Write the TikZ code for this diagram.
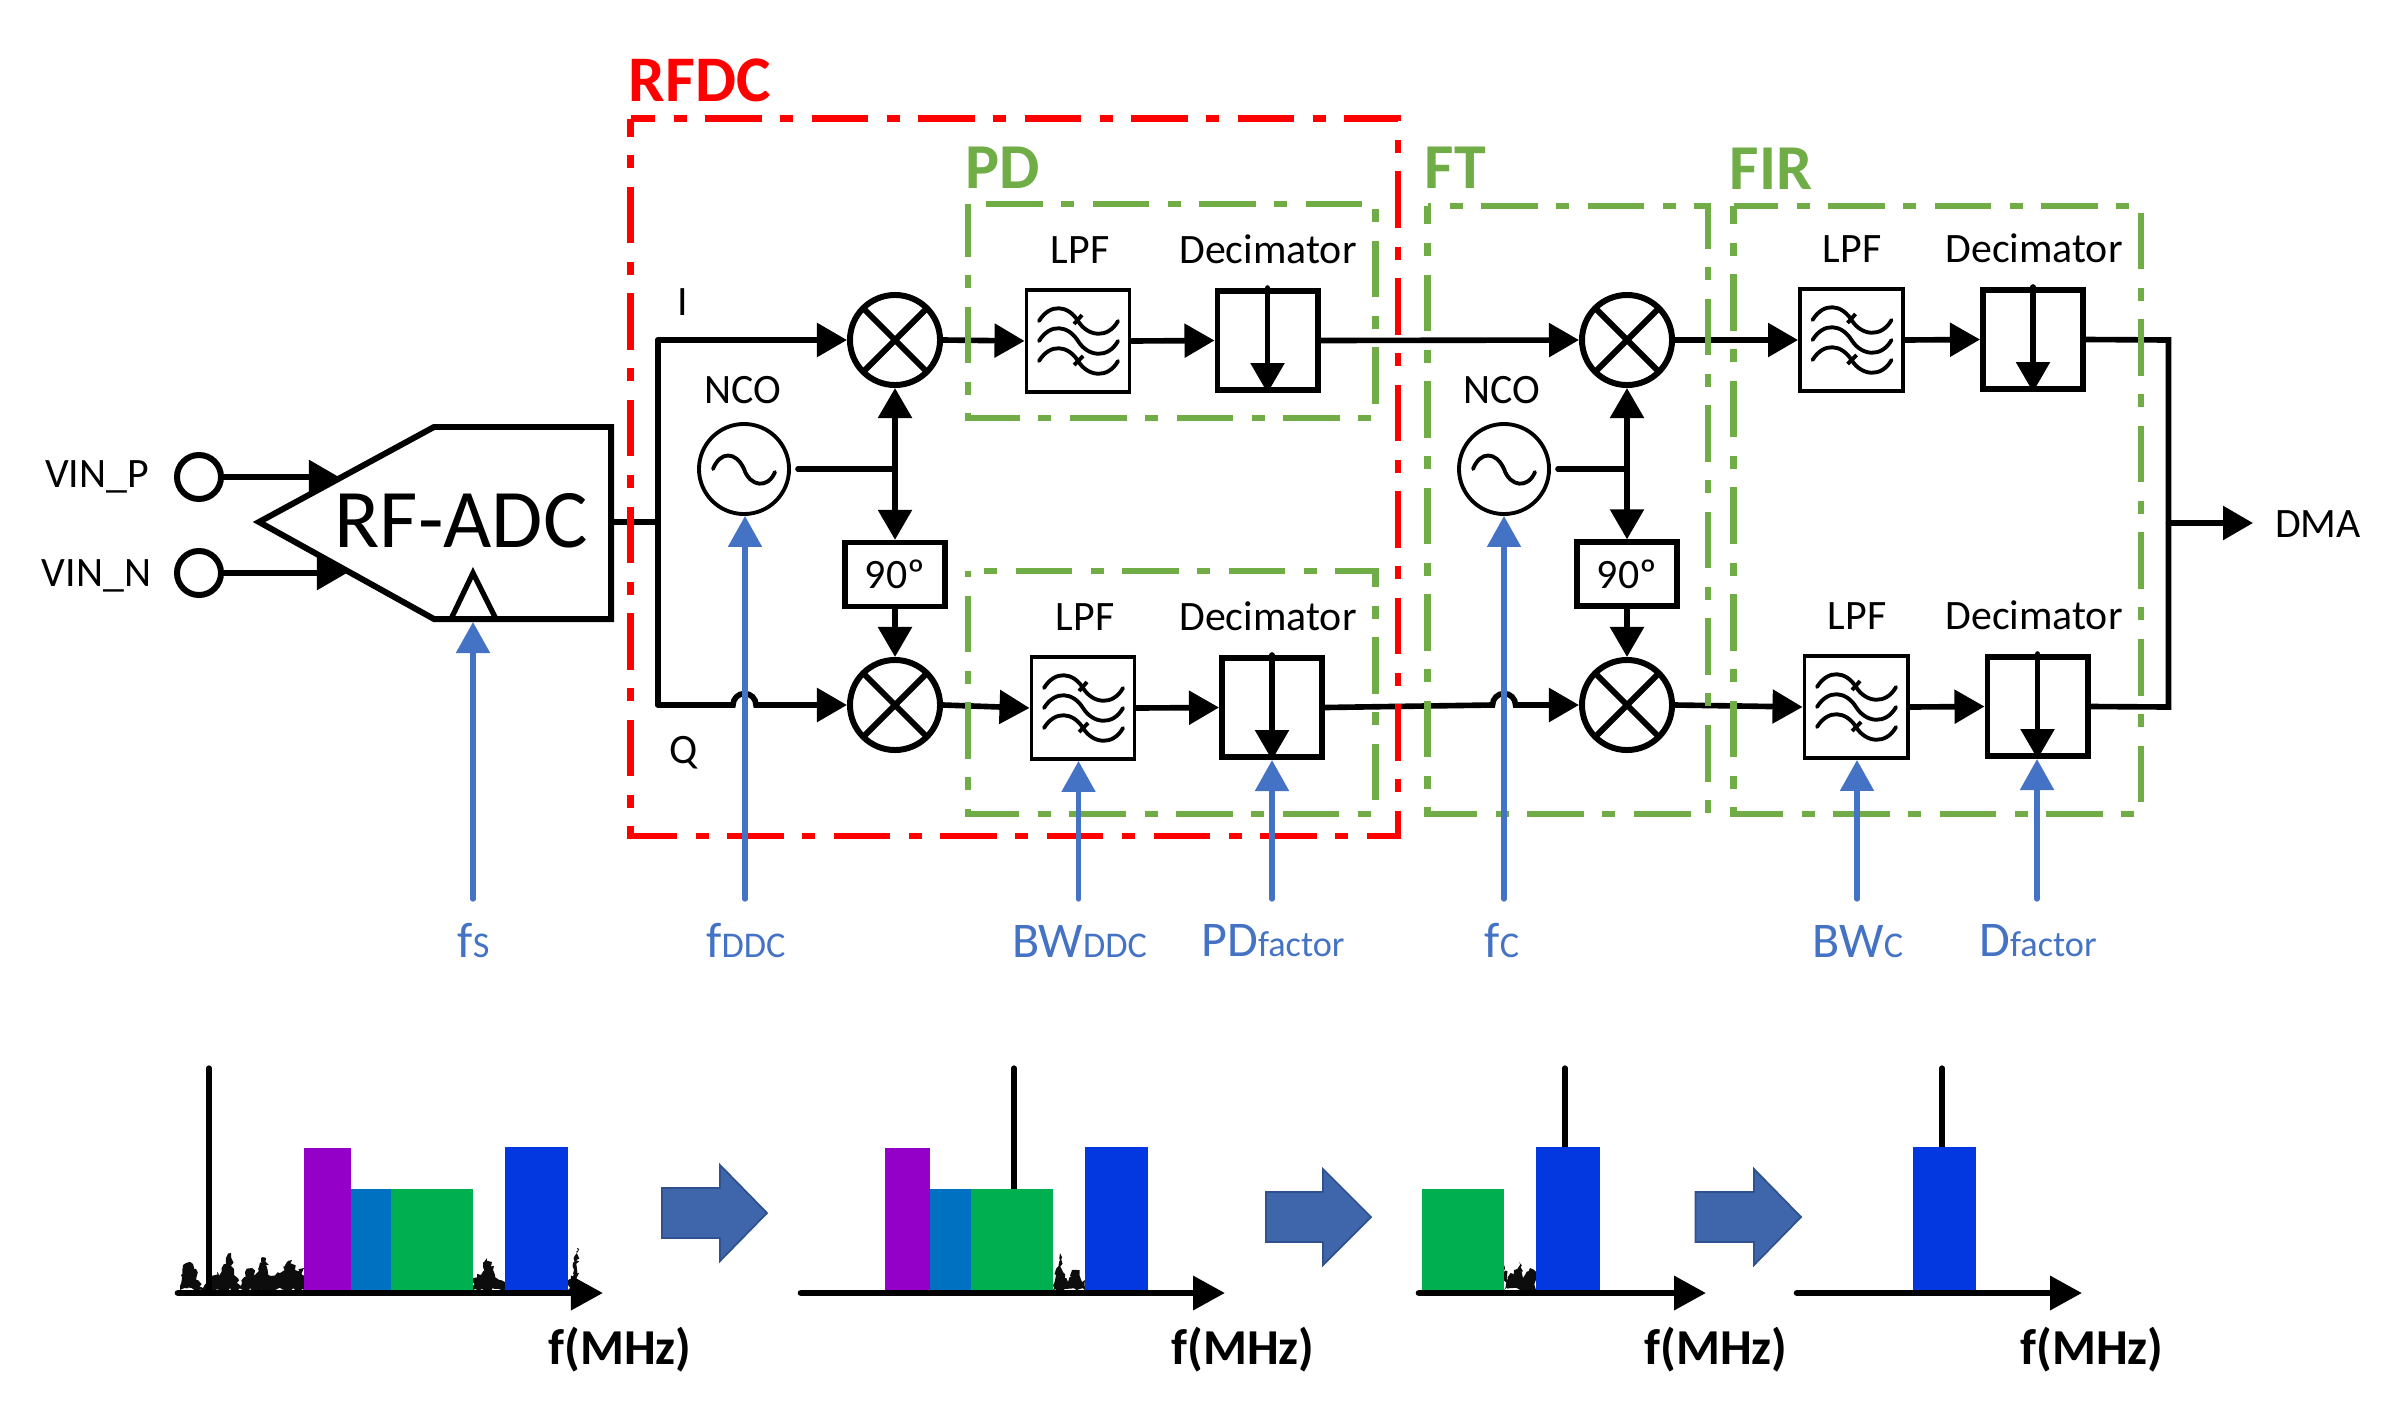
\documentclass[tikz,border=0pt]{standalone}
\usepackage{fontspec}
\setmainfont{Carlito}
\usetikzlibrary{arrows.meta, decorations.pathmorphing}

\definecolor{rfdcred}{HTML}{FF0000}
\definecolor{groupgreen}{HTML}{70AD47}
\definecolor{ctrlblue}{HTML}{4472C4}
\definecolor{barpurple}{HTML}{9400C8}
\definecolor{barcyan}{HTML}{0070C0}
\definecolor{bargreen}{HTML}{00B050}
\definecolor{barblue}{HTML}{0337DF}
\definecolor{stepfill}{HTML}{3F65AB}
\definecolor{stepline}{HTML}{2F528F}

\newcommand{\txtsize}[1]{\fontsize{#1}{#1}\selectfont}

\tikzset{
	px/.style={x=0.01cm, y=-0.01cm},
	wire/.style={line width=1.6pt, line cap=round},
	sig/.style={wire, -{Triangle[length=0.30cm, width=0.33cm]}},
	dblsig/.style={wire, {Triangle[length=0.30cm, width=0.33cm]}-{Triangle[length=0.30cm, width=0.33cm]}},
	ctrl/.style={line width=1.5pt, ctrlblue, line cap=round, -{Triangle[length=0.31cm, width=0.33cm]}},
	mixer/.style={draw, circle, line width=1.7pt, minimum size=0.90cm, inner sep=0pt, path picture={
		\draw[line width=1.7pt] (path picture bounding box.north west) -- (path picture bounding box.south east);
		\draw[line width=1.7pt] (path picture bounding box.north east) -- (path picture bounding box.south west);}},
	nco/.style={draw, circle, line width=1.1pt, minimum size=0.90cm, inner sep=0pt},
	port/.style={draw, circle, line width=1.7pt, minimum size=0.44cm, inner sep=0pt},
	shifter/.style={draw, rectangle, line width=1.5pt, minimum width=1.0cm, minimum height=0.64cm, inner sep=0pt, font=\txtsize{11.9pt}},
	lpf/.style={draw, rectangle, line width=1.1pt, minimum width=1.03cm, minimum height=1.02cm, inner sep=0pt},
	decim/.style={draw, rectangle, line width=1.7pt, minimum width=1.0cm, minimum height=0.99cm, inner sep=0pt},
	lbl/.style={inner sep=0pt, anchor=base, yshift=-0.015cm, font=\txtsize{11.9pt}},
	ctrllbl/.style={inner sep=0pt, anchor=base, text=ctrlblue, font=\txtsize{14.2pt}},
	grp/.style={line width=1.8pt, groupgreen, dash pattern=on 0.565cm off 0.185cm on 0.13cm off 0.185cm},
	grplbl/.style={inner sep=0pt, anchor=base west, text=groupgreen, font=\bfseries\txtsize{18.2pt}},
	axisline/.style={line width=1.9pt, line cap=round, -{Triangle[length=0.32cm, width=0.33cm]}},
	spike/.style={line width=1.5pt},
	noise/.style={fill=black!95, decorate, decoration={random steps, segment length=0.03cm, amplitude=0.025cm}},
	steparrow/.style={fill=stepfill, draw=stepline, line width=0.5pt},
	freqlbl/.style={inner sep=0pt, anchor=base, yshift=-0.015cm, font=\bfseries\txtsize{14.3pt}}
}

% small subscript size of the blue labels
\newcommand{\low}[1]{{\txtsize{10.3pt}#1}}

% wavy lines of the filter symbol
\newcommand{\lpfwaves}[1]{
	\foreach \dy in {-20, 0, 20} {
		\draw[line width=1.1pt, line cap=round, shift={(#1)}, shift={(0,\dy)}]
			(-39,0) .. controls (-28,-18) and (-10,-16) .. (0,0)
			.. controls (10,16) and (30,18) .. (40,0);
	}
	\draw[line width=1.1pt, shift={(#1)}] (-4,-17) -- (4,-26);
	\draw[line width=1.1pt, shift={(#1)}] (-4,24) -- (5,15);
}

% sine of the oscillator
\newcommand{\ncosine}[1]{
	\draw[line width=1.1pt, line cap=round, shift={(#1)}]
		(-31,0) .. controls (-24,-18) and (-8,-18) .. (0,0)
		.. controls (6,18) and (24,20) .. (31,3);
}

\begin{document}
\begin{tikzpicture}[px]
	\useasboundingbox (0,0) rectangle (2401,1424);
	\pgfmathsetseed{11}

	% Converter
	\draw[line width=1.7pt] (259,522) -- (434,427) -- (611,427) -- (611,619) -- (434,619) -- cycle;
	\draw[line width=1.5pt] (451,619) -- (473,573) -- (496,619);
	\node[inner sep=0pt, anchor=base, font=\txtsize{23.7pt}] (adc) at (461,547) {RF-ADC};
	\coordinate (adcout) at (611,522);
	\coordinate (adcp) at (339,477);
	\coordinate (adcn) at (347,573);
	\coordinate (clock) at (473,622);

	% Inputs
	\node[port] (vinp) at (199,477) {};
	\node[port] (vinn) at (199,573) {};
	\node[lbl] (vinplbl) at (97,486) {VIN\_P};
	\node[lbl] (vinnlbl) at (96.5,585) {VIN\_N};
	\draw[sig] (vinp.east) -- (adcp);
	\draw[sig] (vinn.east) -- (adcn);

	% Mixers and phase shifters
	\node[mixer] (mixa) at (895,340) {};
	\node[mixer] (mixb) at (895,705) {};
	\node[mixer] (mixc) at (1627,340) {};
	\node[mixer] (mixd) at (1627,705) {};
	\node[shifter] (shifta) at (895,574.5) {90º};
	\node[shifter] (shiftb) at (1627,574) {90º};

	% Oscillators
	\node[nco] (ncoa) at (744,469) {};
	\node[nco] (ncob) at (1504,469) {};
	\ncosine{ncoa.center}
	\ncosine{ncob.center}
	\node[lbl] (ncoalbl) at (743,402) {NCO};
	\node[lbl] (ncoblbl) at (1502,402) {NCO};

	% Filters
	\node[lpf] (lpfa) at (1078,341) {};
	\node[lpf] (lpfb) at (1083,708) {};
	\node[lpf] (lpfc) at (1851.5,340) {};
	\node[lpf] (lpfd) at (1856,707) {};
	\lpfwaves{lpfa.center}
	\lpfwaves{lpfb.center}
	\lpfwaves{lpfc.center}
	\lpfwaves{lpfd.center}
	\node[lbl] (lpfalbl) at (1080,262) {LPF};
	\node[lbl] (lpfblbl) at (1085,629) {LPF};
	\node[lbl] (lpfclbl) at (1852,261) {LPF};
	\node[lbl] (lpfdlbl) at (1857,628) {LPF};

	% Decimators
	\node[decim] (deca) at (1267.5,340.5) {};
	\node[decim] (decb) at (1272,707.5) {};
	\node[decim] (decc) at (2033,339.5) {};
	\node[decim] (decd) at (2037.5,706.5) {};
	\node[lbl] (decalbl) at (1268,262) {Decimator};
	\node[lbl] (decblbl) at (1268,629) {Decimator};
	\node[lbl] (decclbl) at (2034,261) {Decimator};
	\node[lbl] (decdlbl) at (2034,628) {Decimator};
	\draw[sig] (deca.north) -- (deca.south);
	\draw[sig] (decb.north) -- (decb.south);
	\draw[sig] (decc.north) -- (decc.south);
	\draw[sig] (decd.north) -- (decd.south);

	% Signal path
	\node[lbl] (ilbl) at (683,314) {I};
	\node[lbl] (qlbl) at (684,762) {Q};
	\coordinate (busi) at (658,340);
	\coordinate (busq) at (658,705);
	\draw[wire] (adcout) -- (adcout -| busi);
	\draw[wire] (busq) -- (busi);
	\draw[sig] (busi) -- (mixa.west);
	\draw[sig] (busq) -- (733,705) arc[start angle=180, end angle=360, radius=11.5] -- (mixb.west);
	\draw[sig] (mixa.east) -- (lpfa.west);
	\draw[sig] (mixb.east) -- (lpfb.west);
	\draw[sig] (lpfa.east) -- (deca.west);
	\draw[sig] (lpfb.east) -- (decb.west);
	\draw[sig] (deca.east) -- (mixc.west);
	\draw[sig] (decb.east) -- (1492.5,705) arc[start angle=180, end angle=360, radius=11.5] -- (mixd.west);
	\draw[sig] (mixc.east) -- (lpfc.west);
	\draw[sig] (mixd.east) -- (lpfd.west);
	\draw[sig] (lpfc.east) -- (decc.west);
	\draw[sig] (lpfd.east) -- (decd.west);

	% Oscillator branches
	\draw[wire] ([xshift=0.07cm]ncoa.east) -- (ncoa.east -| mixa.south);
	\draw[wire] ([xshift=0.07cm]ncob.east) -- (ncob.east -| mixc.south);
	\draw[dblsig] (mixa.south) -- (shifta.north);
	\draw[dblsig] (mixc.south) -- (shiftb.north);
	\draw[sig] (shifta.south) -- (mixb.north);
	\draw[sig] (shiftb.south) -- (mixd.north);

	% Output
	\node[inner sep=0pt, font=\txtsize{11.9pt}] (dma) at (2318,524) {DMA};
	\coordinate (busa) at (2168.5,340);
	\coordinate (busb) at (2168.5,707);
	\coordinate (busm) at (2168.5,523);
	\coordinate (dmatip) at (2253,523);
	\draw[wire] (decc.east) -- (busa) -- (busb) -- (decd.east);
	\draw[sig] (busm) -- (dmatip);

	% Group frames
	\draw[grp, dash phase=0.885cm] (968,204) -- (1375.5,204) -- (1375.5,418) -- (968,418) -- cycle;
	\draw[grp, dash phase=0.59cm] (968,571) -- (1375.5,571) -- (1375.5,814) -- (968,814) -- cycle;
	\draw[grp, dash phase=0.53cm] (1427.5,206) -- (1708,206) -- (1708,814) -- (1427.5,814) -- cycle;
	\draw[grp, dash phase=0.12cm] (1733.5,206) -- (2141,206) -- (2141,814) -- (1733.5,814) -- cycle;
	\draw[grp, rfdcred, dash phase=0.32cm] (630.5,118.5) -- (1398,118.5) -- (1398,836) -- (630.5,836) -- cycle;

	\node[grplbl, text=rfdcred, font=\bfseries\txtsize{18.5pt}] (rfdclbl) at (628,101) {RFDC};
	\node[grplbl] (pdlbl) at (965,188) {PD};
	\node[grplbl] (ftlbl) at (1424,188) {FT};
	\node[grplbl] (firlbl) at (1729,189) {FIR};

	% Control inputs
	\node[ctrllbl] (fslbl) at (473.5,957) {f\low{S}};
	\node[ctrllbl] (fddclbl) at (746,957) {f\low{DDC}};
	\node[ctrllbl] (bwddclbl) at (1079.5,957) {BW\low{DDC}};
	\node[ctrllbl] (pdflbl) at (1273,956) {PD\low{factor}};
	\node[ctrllbl] (fclbl) at (1502,957) {f\low{C}};
	\node[ctrllbl] (bwclbl) at (1858,957) {BW\low{C}};
	\node[ctrllbl] (dflbl) at (2038,956) {D\low{factor}};
	\coordinate (fsin) at (473,899);
	\coordinate (fddcin) at (745,899);
	\coordinate (bwddcin) at (1078.5,899);
	\coordinate (pdfin) at (1272,899);
	\coordinate (fcin) at (1504,899);
	\coordinate (bwcin) at (1857,899);
	\coordinate (dfin) at (2037,899);
	\draw[ctrl] (fsin) -- (clock);
	\draw[ctrl] (fddcin) -- (fddcin |- ncoa.south);
	\draw[ctrl] (bwddcin) -- (bwddcin |- lpfb.south);
	\draw[ctrl] (pdfin) -- (pdfin |- decb.south);
	\draw[ctrl] (fcin) -- (fcin |- ncob.south);
	\draw[ctrl] (bwcin) -- (bwcin |- lpfd.south);
	\draw[ctrl] (dfin) -- (dfin |- decd.south);

	% Spectra
	\fill[noise] (180,1290) -- (181,1275) -- (186,1263) -- (193,1264) -- (198,1280) -- (203,1288) -- (209,1280) -- (217,1272) -- (220,1278) -- (226,1258) -- (231,1253) -- (234,1275) -- (241,1286) -- (245,1272) -- (252,1268) -- (255,1275) -- (261,1258) -- (266,1258) -- (271,1276) -- (280,1273) -- (287,1262) -- (292,1260) -- (295,1270) -- (304,1268) -- (304,1290) -- cycle;
	\fill[noise] (473,1290) -- (473,1278) -- (481,1275) -- (487,1258) -- (492,1262) -- (495,1277) -- (501,1280) -- (505,1282) -- (505,1290) -- cycle;
	\fill[noise] (568,1290) -- (568,1280) -- (574,1270) -- (577,1248) -- (578,1248) -- (578,1290) -- cycle;
	\fill[noise] (1053,1290) -- (1053,1285) -- (1056,1275) -- (1060,1253) -- (1063,1272) -- (1068,1282) -- (1072,1270) -- (1077,1270) -- (1082,1282) -- (1085,1280) -- (1085,1290) -- cycle;
	\fill[noise] (1504,1290) -- (1504,1265) -- (1508,1280) -- (1514,1270) -- (1519,1262) -- (1523,1278) -- (1530,1268) -- (1536,1272) -- (1536,1290) -- cycle;
	\foreach \xs/\yb in {209/1293, 1014/1189, 1565/1147, 1942/1147} {
		\draw[spike, line cap=round] (\xs,1068) -- (\xs,\yb);
	}
	\foreach \xa/\xb/\ya/\col in {304/351/1148/barpurple, 351/391/1189/barcyan, 391/473/1189/bargreen, 505/568/1147/barblue,
		884.5/930/1148/barpurple, 930/971/1189/barcyan, 971/1053/1189/bargreen, 1085/1148/1147/barblue,
		1421.5/1504/1189/bargreen, 1536/1599.5/1147/barblue, 1913/1976/1147/barblue} {
		\fill[\col] (\xa,\ya) rectangle (\xb,1290);
	}
	\foreach \xa/\xb in {178/603, 801/1225, 1419/1706, 1797/2082} {
		\draw[axisline] (\xa,1293) -- (\xb,1293);
	}

	% Block arrows between spectra
	\foreach \xa/\xb/\xc/\ym in {662/720/767/1213, 1266/1323/1371/1217, 1695.5/1754/1801/1217} {
		\draw[steparrow] (\xa,\ym-25) -- (\xb,\ym-25) -- (\xb,\ym-48) -- (\xc,\ym) -- (\xb,\ym+48) -- (\xb,\ym+25) -- (\xa,\ym+25) -- cycle;
	}

	\node[freqlbl] (freqa) at (620,1363) {f(MHz)};
	\node[freqlbl] (freqb) at (1243,1363) {f(MHz)};
	\node[freqlbl] (freqc) at (1716,1363) {f(MHz)};
	\node[freqlbl] (freqd) at (2092,1363) {f(MHz)};
\end{tikzpicture}
\end{document}
